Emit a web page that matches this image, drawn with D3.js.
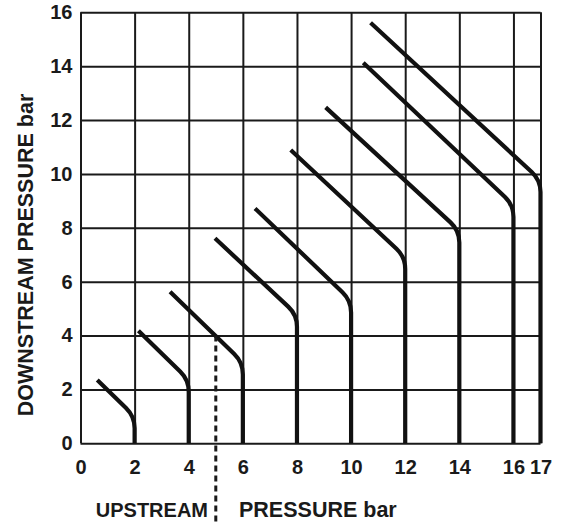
<!DOCTYPE html>
<html>
<head>
<meta charset="utf-8">
<script src="https://cdn.jsdelivr.net/npm/d3@7"></script>
<style>
  html, body { margin: 0; padding: 0; background: #fff; }
  svg { display: block; }
  text { font-family: "Liberation Sans", Arial, Helvetica, sans-serif; font-weight: bold; fill: #1a1a1a; }
</style>
</head>
<body>
<svg id="chart" width="563" height="524"></svg>
<script>
// ---- data ----
const xTicks = [0, 2, 4, 6, 8, 10, 12, 14, 16, 17];
const yTicks = [0, 2, 4, 6, 8, 10, 12, 14, 16];
// each regulator curve: diagonal from (startX,startY) down to knee at upstream = maxUpstream, then vertical to 0
const maxUpstream = [2, 4, 6, 8, 10, 12, 14, 16, 17];
const startX = [0.62, 2.14, 3.31, 4.97, 6.45, 7.77, 9.06, 10.45, 10.72];
const startY = [2.35, 4.18, 5.63, 7.61, 8.72, 10.89, 12.47, 14.13, 15.61];
const kneeY = [1.0, 2.35, 3.0, 4.77, 5.3, 6.92, 7.9, 8.85, 9.77];
const dividerX = [5];
const dividerY = [4];
const xTitleLeft = "UPSTREAM";
const xTitleRight = "PRESSURE bar";
const yTitle = "DOWNSTREAM PRESSURE bar";

// ---- layout ----
const svg = d3.select("#chart");
const mLeft = 80.5, mRight = 540.5, mTop = 12.3, mBottom = 443.3;
const x = d3.scaleLinear().domain([0, 17]).range([mLeft, mRight]);
const y = d3.scaleLinear().domain([0, 16]).range([mBottom, mTop]);
const ink = "#1a1a1a";

// grid via axes
const gx = svg.append("g").attr("transform", `translate(0,${mBottom})`)
  .call(d3.axisBottom(x).tickValues(xTicks).tickSize(-(mBottom - mTop)).tickPadding(17).tickFormat(d3.format("d")));
gx.select(".domain").remove();
gx.selectAll("line").attr("stroke", ink).attr("stroke-width", 2);
gx.selectAll("text").style("font-size", "20px").attr("fill", ink);

const gy = svg.append("g").attr("transform", `translate(${mLeft},0)`)
  .call(d3.axisLeft(y).tickValues(yTicks).tickSize(-(mRight - mLeft)).tickPadding(8).tickFormat(d3.format("d")));
gy.select(".domain").remove();
gy.selectAll("line").attr("stroke", ink).attr("stroke-width", 2);
gy.selectAll("text").style("font-size", "20px").attr("fill", ink);

// curves
const r = 12;
const curves = maxUpstream.map((m, i) => ({ m, sx: startX[i], sy: startY[i], ky: kneeY[i] }));
svg.append("g").selectAll("path").data(curves).join("path")
  .attr("d", c => {
    const p0 = [x(c.sx), y(c.sy)];
    const k = [x(c.m), y(c.ky)];
    const b = [x(c.m), y(0)];
    const dx = k[0] - p0[0], dy = k[1] - p0[1];
    const len = Math.hypot(dx, dy);
    const a = [k[0] - dx / len * r, k[1] - dy / len * r];
    const d = [k[0], k[1] + r];
    const p = d3.path();
    p.moveTo(p0[0], p0[1]);
    p.lineTo(a[0], a[1]);
    p.quadraticCurveTo(k[0], k[1], d[0], d[1]);
    p.lineTo(b[0], b[1]);
    return p.toString();
  })
  .attr("fill", "none")
  .attr("stroke", "#111")
  .attr("stroke-width", 4.2)
  .attr("stroke-linejoin", "round");

// dashed divider
svg.append("line")
  .attr("x1", x(dividerX[0])).attr("x2", x(dividerX[0]))
  .attr("y1", y(dividerY[0])).attr("y2", 524)
  .attr("stroke", ink).attr("stroke-width", 3).attr("stroke-dasharray", "6,4");

// titles
svg.append("text").attr("x", 208).attr("y", 517).attr("text-anchor", "end")
  .style("font-size", "20px").text(xTitleLeft);
svg.append("text").attr("x", 239).attr("y", 517).attr("text-anchor", "start")
  .style("font-size", "21.5px").text(xTitleRight);
svg.append("text").attr("transform", "translate(33,255) rotate(-90)").attr("text-anchor", "middle")
  .style("font-size", "21.5px").text(yTitle);
</script>
</body>
</html>
